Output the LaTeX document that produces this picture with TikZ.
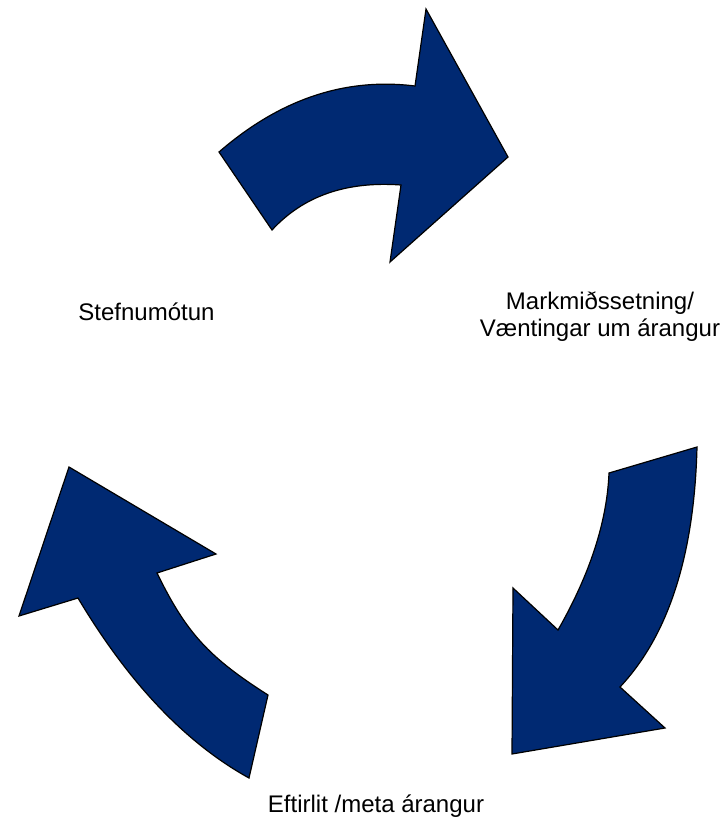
\documentclass[tikz,border=0pt]{standalone}
\usepackage{fontspec}
\setmainfont{Liberation Sans}
\definecolor{navyblue}{RGB}{0,41,114}

\begin{document}
\begin{tikzpicture}
  [x=1pt,y=-1pt,every node/.style={inner sep=0pt,font=\fontsize{24}{27}\selectfont},
   bigarrow/.style={fill=navyblue,draw=black,line width=1.2pt,line join=miter}]
  \path (0,0) rectangle (728,820);
  % top arrow
  \draw[bigarrow] (219,152) .. controls (279.7,99.3) and (345,77.3) .. (415,86)
    -- (426,9) -- (508,157) -- (390,262) -- (401,185)
    .. controls (346.3,181) and (303.3,196) .. (272,230) -- cycle;
  % right arrow
  \draw[bigarrow] (697,447) .. controls (694.3,555) and (668.7,635) .. (620,687)
    -- (665,728) -- (512,754) -- (513,588) -- (558,630)
    .. controls (590,574) and (607,521.7) .. (609,473) -- cycle;
  % left arrow
  \draw[bigarrow] (249,778) .. controls (185.7,743) and (128.7,683) .. (78,598)
    -- (19,616) -- (69,467) -- (216,554) -- (157,573)
    .. controls (186.2,632.7) and (208.4,657) .. (268,695) -- cycle;
  \node[anchor=base] (policy) at (146.5,320) {Stefnumótun};
  \node[anchor=north,align=center] (goals) at (600,291.5) {Markmiðssetning/\\Væntingar um árangur};
  \node[anchor=base] (review) at (376,812) {Eftirlit /meta árangur};
\end{tikzpicture}
\end{document}
